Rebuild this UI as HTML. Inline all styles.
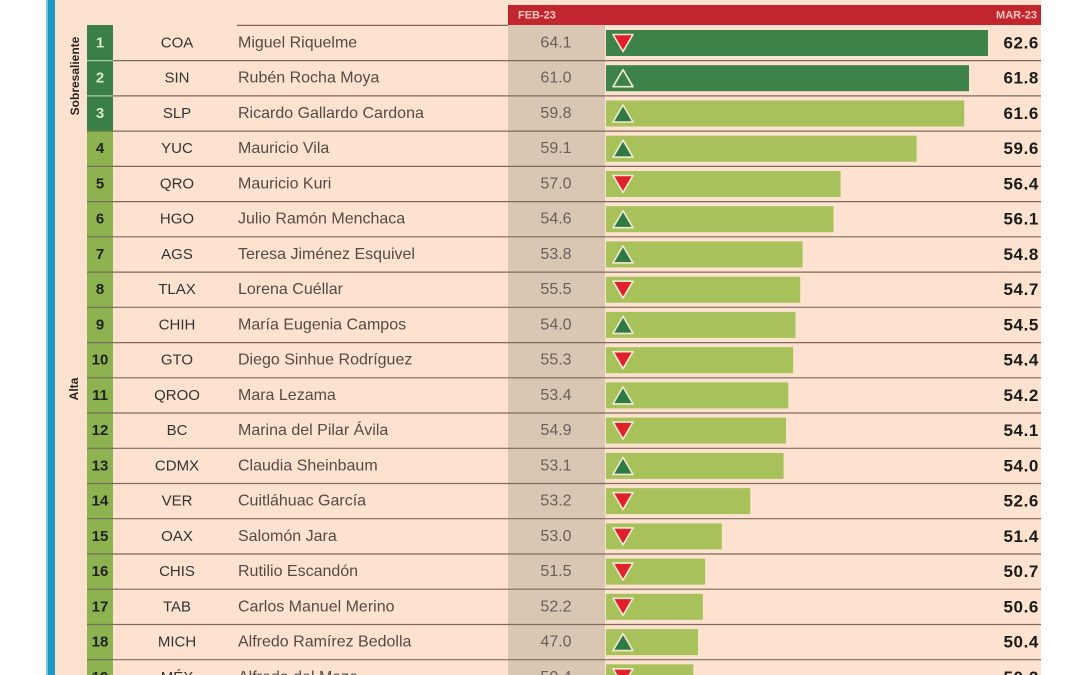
<!DOCTYPE html>
<html><head><meta charset="utf-8"><style>
html,body{margin:0;padding:0;background:#fff;}
svg{display:block;}
text{font-family:"Liberation Sans",sans-serif;}
</style></head><body>
<svg width="1080" height="675" viewBox="0 0 1080 675" xmlns="http://www.w3.org/2000/svg">
<rect x="0" y="0" width="1080" height="675" fill="#ffffff"/>
<rect x="46" y="0" width="3" height="675" fill="#7cc7dd"/>
<rect x="48" y="0" width="7" height="675" fill="#1b9ac2"/>
<rect x="55" y="0" width="986" height="675" fill="#fde3cf"/>
<rect x="87" y="25" width="26" height="106" fill="#3b7f48"/>
<rect x="87" y="131" width="26" height="544" fill="#8db350"/>
<rect x="508" y="25" width="97" height="650" fill="#d9c6b3"/>
<rect x="508" y="5" width="533" height="20" fill="#c1252d"/>
<text x="518" y="15.5" font-size="11" font-weight="bold" fill="#f7c9c0" dominant-baseline="central">FEB-23</text>
<text x="1037" y="15.5" font-size="11" font-weight="bold" fill="#f7c9c0" text-anchor="end" dominant-baseline="central">MAR-23</text>
<line x1="237" y1="25.4" x2="508" y2="25.4" stroke="#7d6a5c" stroke-width="1.2"/>
<g stroke-width="1.2">
<line x1="87" y1="60.6" x2="113" y2="60.6" stroke="#a9cf9e"/>
<line x1="87" y1="95.9" x2="113" y2="95.9" stroke="#a9cf9e"/>
<line x1="87" y1="131.1" x2="113" y2="131.1" stroke="#6a7a40"/>
</g>
<g stroke="#7d6a5c" stroke-width="1.2">
<line x1="113" y1="60.6" x2="1041" y2="60.6"/>
<line x1="113" y1="95.9" x2="1041" y2="95.9"/>
<line x1="113" y1="131.1" x2="1041" y2="131.1"/>
<line x1="87" y1="166.4" x2="1041" y2="166.4"/>
<line x1="87" y1="201.6" x2="1041" y2="201.6"/>
<line x1="87" y1="236.8" x2="1041" y2="236.8"/>
<line x1="87" y1="272.1" x2="1041" y2="272.1"/>
<line x1="87" y1="307.3" x2="1041" y2="307.3"/>
<line x1="87" y1="342.6" x2="1041" y2="342.6"/>
<line x1="87" y1="377.8" x2="1041" y2="377.8"/>
<line x1="87" y1="413.0" x2="1041" y2="413.0"/>
<line x1="87" y1="448.3" x2="1041" y2="448.3"/>
<line x1="87" y1="483.5" x2="1041" y2="483.5"/>
<line x1="87" y1="518.7" x2="1041" y2="518.7"/>
<line x1="87" y1="554.0" x2="1041" y2="554.0"/>
<line x1="87" y1="589.2" x2="1041" y2="589.2"/>
<line x1="87" y1="624.5" x2="1041" y2="624.5"/>
<line x1="87" y1="659.7" x2="1041" y2="659.7"/>
</g>
<text transform="translate(75,76) rotate(-90)" font-size="12" font-weight="bold" fill="#2a2420" text-anchor="middle" dominant-baseline="central">Sobresaliente</text>
<text transform="translate(74,389) rotate(-90)" font-size="12" font-weight="bold" fill="#2a2420" text-anchor="middle" dominant-baseline="central">Alta</text>
<g>
<rect x="606" y="30" width="382" height="26" fill="#3c8249"/>
<rect x="606" y="65.2" width="363" height="26" fill="#3c8249"/>
<rect x="606" y="100.5" width="358.2" height="26" fill="#a7c25b"/>
<rect x="606" y="135.7" width="310.7" height="26" fill="#a7c25b"/>
<rect x="606" y="171" width="234.6" height="26" fill="#a7c25b"/>
<rect x="606" y="206.2" width="227.5" height="26" fill="#a7c25b"/>
<rect x="606" y="241.4" width="196.6" height="26" fill="#a7c25b"/>
<rect x="606" y="276.7" width="194.2" height="26" fill="#a7c25b"/>
<rect x="606" y="311.9" width="189.5" height="26" fill="#a7c25b"/>
<rect x="606" y="347.2" width="187.1" height="26" fill="#a7c25b"/>
<rect x="606" y="382.4" width="182.3" height="26" fill="#a7c25b"/>
<rect x="606" y="417.6" width="180" height="26" fill="#a7c25b"/>
<rect x="606" y="452.9" width="177.6" height="26" fill="#a7c25b"/>
<rect x="606" y="488.1" width="144.3" height="26" fill="#a7c25b"/>
<rect x="606" y="523.4" width="115.8" height="26" fill="#a7c25b"/>
<rect x="606" y="558.6" width="99.1" height="26" fill="#a7c25b"/>
<rect x="606" y="593.8" width="96.8" height="26" fill="#a7c25b"/>
<rect x="606" y="629.1" width="92" height="26" fill="#a7c25b"/>
<rect x="606" y="664.3" width="87.3" height="26" fill="#a7c25b"/>
</g>
<g stroke="#f4ead2" stroke-width="1.6" stroke-linejoin="round">
<polygon points="613,34.5 633,34.5 623,51.5" fill="#e0212b"/>
<polygon points="613,86.7 633,86.7 623,69.7" fill="none"/>
<polygon points="613,122 633,122 623,105" fill="#2f7a44"/>
<polygon points="613,157.2 633,157.2 623,140.2" fill="#2f7a44"/>
<polygon points="613,175.5 633,175.5 623,192.5" fill="#e0212b"/>
<polygon points="613,227.7 633,227.7 623,210.7" fill="#2f7a44"/>
<polygon points="613,262.9 633,262.9 623,245.9" fill="#2f7a44"/>
<polygon points="613,281.2 633,281.2 623,298.2" fill="#e0212b"/>
<polygon points="613,333.4 633,333.4 623,316.4" fill="#2f7a44"/>
<polygon points="613,351.7 633,351.7 623,368.7" fill="#e0212b"/>
<polygon points="613,403.9 633,403.9 623,386.9" fill="#2f7a44"/>
<polygon points="613,422.1 633,422.1 623,439.1" fill="#e0212b"/>
<polygon points="613,474.4 633,474.4 623,457.4" fill="#2f7a44"/>
<polygon points="613,492.6 633,492.6 623,509.6" fill="#e0212b"/>
<polygon points="613,527.9 633,527.9 623,544.9" fill="#e0212b"/>
<polygon points="613,563.1 633,563.1 623,580.1" fill="#e0212b"/>
<polygon points="613,598.3 633,598.3 623,615.3" fill="#e0212b"/>
<polygon points="613,650.6 633,650.6 623,633.6" fill="#2f7a44"/>
<polygon points="613,668.8 633,668.8 623,685.8" fill="#e0212b"/>
</g>
<g font-size="15" font-weight="bold" text-anchor="middle" dominant-baseline="central">
<text x="100" y="43" fill="#d6ebc6">1</text>
<text x="100" y="78.2" fill="#d6ebc6">2</text>
<text x="100" y="113.5" fill="#d6ebc6">3</text>
<g fill="#222">
<text x="100" y="148.7">4</text>
<text x="100" y="184">5</text>
<text x="100" y="219.2">6</text>
<text x="100" y="254.4">7</text>
<text x="100" y="289.7">8</text>
<text x="100" y="324.9">9</text>
<text x="100" y="360.2">10</text>
<text x="100" y="395.4">11</text>
<text x="100" y="430.6">12</text>
<text x="100" y="465.9">13</text>
<text x="100" y="501.1">14</text>
<text x="100" y="536.4">15</text>
<text x="100" y="571.6">16</text>
<text x="100" y="606.8">17</text>
<text x="100" y="642.1">18</text>
<text x="100" y="677.3">19</text>
</g>
</g>
<g font-size="15" fill="#333" text-anchor="middle" dominant-baseline="central">
<text x="177" y="43">COA</text>
<text x="177" y="78.2">SIN</text>
<text x="177" y="113.5">SLP</text>
<text x="177" y="148.7">YUC</text>
<text x="177" y="184">QRO</text>
<text x="177" y="219.2">HGO</text>
<text x="177" y="254.4">AGS</text>
<text x="177" y="289.7">TLAX</text>
<text x="177" y="324.9">CHIH</text>
<text x="177" y="360.2">GTO</text>
<text x="177" y="395.4">QROO</text>
<text x="177" y="430.6">BC</text>
<text x="177" y="465.9">CDMX</text>
<text x="177" y="501.1">VER</text>
<text x="177" y="536.4">OAX</text>
<text x="177" y="571.6">CHIS</text>
<text x="177" y="606.8">TAB</text>
<text x="177" y="642.1">MICH</text>
<text x="177" y="677.3">MÉX</text>
</g>
<g font-size="16" fill="#564a44" dominant-baseline="central">
<text x="238" y="43">Miguel Riquelme</text>
<text x="238" y="78.2">Rubén Rocha Moya</text>
<text x="238" y="113.5">Ricardo Gallardo Cardona</text>
<text x="238" y="148.7">Mauricio Vila</text>
<text x="238" y="184">Mauricio Kuri</text>
<text x="238" y="219.2">Julio Ramón Menchaca</text>
<text x="238" y="254.4">Teresa Jiménez Esquivel</text>
<text x="238" y="289.7">Lorena Cuéllar</text>
<text x="238" y="324.9">María Eugenia Campos</text>
<text x="238" y="360.2">Diego Sinhue Rodríguez</text>
<text x="238" y="395.4">Mara Lezama</text>
<text x="238" y="430.6">Marina del Pilar Ávila</text>
<text x="238" y="465.9">Claudia Sheinbaum</text>
<text x="238" y="501.1">Cuitláhuac García</text>
<text x="238" y="536.4">Salomón Jara</text>
<text x="238" y="571.6">Rutilio Escandón</text>
<text x="238" y="606.8">Carlos Manuel Merino</text>
<text x="238" y="642.1">Alfredo Ramírez Bedolla</text>
<text x="238" y="677.3">Alfredo del Mazo</text>
</g>
<g font-size="16" fill="#6a605a" text-anchor="middle" dominant-baseline="central">
<text x="556" y="43">64.1</text>
<text x="556" y="78.2">61.0</text>
<text x="556" y="113.5">59.8</text>
<text x="556" y="148.7">59.1</text>
<text x="556" y="184">57.0</text>
<text x="556" y="219.2">54.6</text>
<text x="556" y="254.4">53.8</text>
<text x="556" y="289.7">55.5</text>
<text x="556" y="324.9">54.0</text>
<text x="556" y="360.2">55.3</text>
<text x="556" y="395.4">53.4</text>
<text x="556" y="430.6">54.9</text>
<text x="556" y="465.9">53.1</text>
<text x="556" y="501.1">53.2</text>
<text x="556" y="536.4">53.0</text>
<text x="556" y="571.6">51.5</text>
<text x="556" y="606.8">52.2</text>
<text x="556" y="642.1">47.0</text>
<text x="556" y="677.3">50.4</text>
</g>
<g font-size="17" font-weight="bold" fill="#1b1b1b" text-anchor="end" dominant-baseline="central" letter-spacing="0.6">
<text x="1039" y="43">62.6</text>
<text x="1039" y="78.2">61.8</text>
<text x="1039" y="113.5">61.6</text>
<text x="1039" y="148.7">59.6</text>
<text x="1039" y="184">56.4</text>
<text x="1039" y="219.2">56.1</text>
<text x="1039" y="254.4">54.8</text>
<text x="1039" y="289.7">54.7</text>
<text x="1039" y="324.9">54.5</text>
<text x="1039" y="360.2">54.4</text>
<text x="1039" y="395.4">54.2</text>
<text x="1039" y="430.6">54.1</text>
<text x="1039" y="465.9">54.0</text>
<text x="1039" y="501.1">52.6</text>
<text x="1039" y="536.4">51.4</text>
<text x="1039" y="571.6">50.7</text>
<text x="1039" y="606.8">50.6</text>
<text x="1039" y="642.1">50.4</text>
<text x="1039" y="677.3">50.2</text>
</g>
</svg>
</body></html>
